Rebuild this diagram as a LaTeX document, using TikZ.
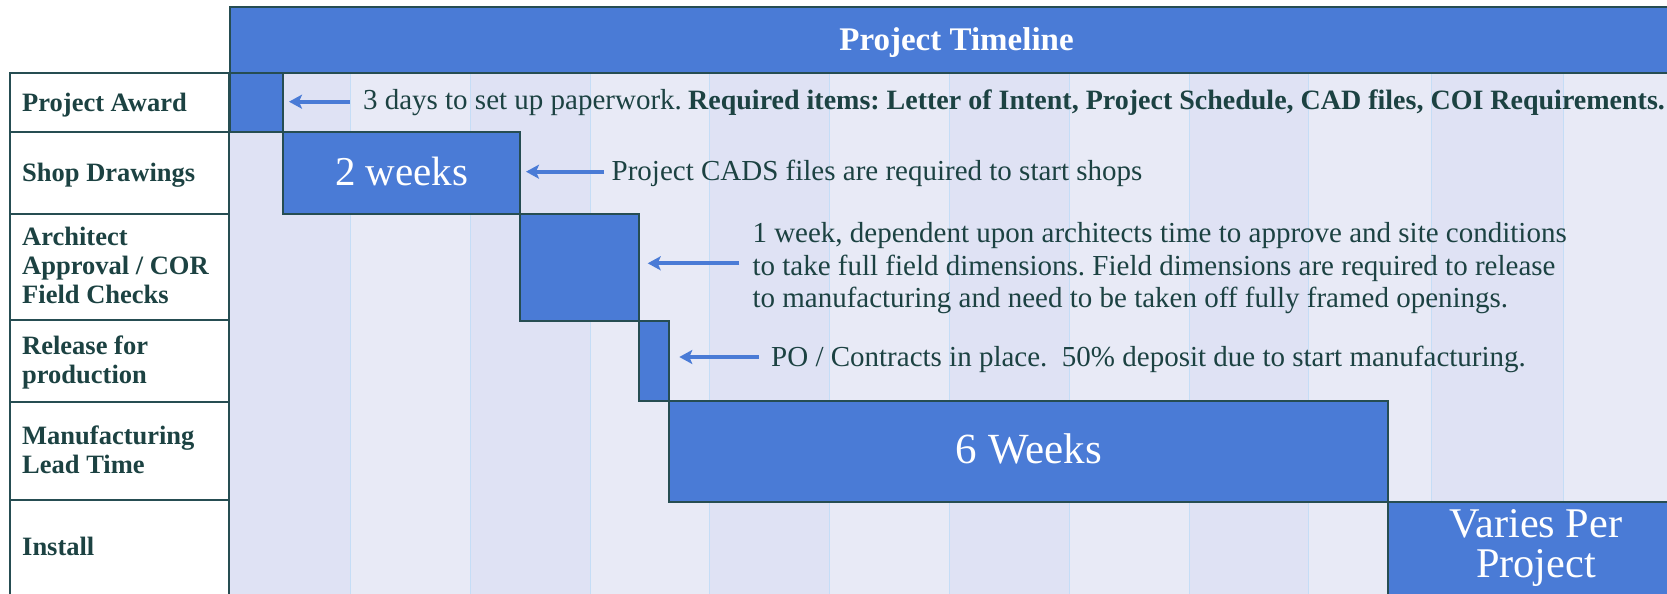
\documentclass[tikz,border=0pt]{standalone}
\usepackage{fontspec}
\setmainfont{Liberation Serif}
\usetikzlibrary{arrows.meta}
\definecolor{barblue}{RGB}{74,123,214}
\definecolor{edge}{RGB}{38,77,82}
\definecolor{ink}{RGB}{28,66,66}
\definecolor{stripeA}{RGB}{223,226,244}
\definecolor{stripeB}{RGB}{232,234,246}
\definecolor{gridline}{RGB}{197,221,246}
\begin{document}
\frenchspacing
\begin{tikzpicture}[x=1pt,y=-1pt,
  bar/.style={draw=edge, line width=1.8pt, fill=barblue, rectangle, inner sep=0pt, outer sep=0pt, anchor=north west},
  cell/.style={draw=edge, line width=2pt, fill=white, rectangle, inner sep=0pt, outer sep=0pt, anchor=north west, minimum width=219.2pt},
  lbl/.style={anchor=base west, inner sep=0pt, text=ink, font=\fontsize{26.5}{29}\selectfont\bfseries},
  ann/.style={anchor=base west, inner sep=0pt, text=ink, font=\fontsize{29}{32.4}\selectfont},
  arr/.style={draw=barblue, line width=4pt, -{Stealth[length=13pt,width=14pt,inset=3pt]}},
  bartext/.style={anchor=base, inner sep=0pt, text=white}
]
\useasboundingbox (0,0) rectangle (1667,594);
\clip (0,0) rectangle (1667,594);
% background stripes
\foreach \a/\b/\c in {230/350.3/stripeA,350.3/470.3/stripeB,470.3/590/stripeA,590/709.8/stripeB,709.8/829.6/stripeA,829.6/949.3/stripeB,949.3/1069.6/stripeA,1069.6/1189/stripeB,1189/1308.5/stripeA,1308.5/1431.5/stripeB,1431.5/1563.7/stripeA,1563.7/1684/stripeB}
  \fill[\c] (\a,72.7) rectangle (\b,600);
\foreach \a in {350.3,470.3,590,709.8,829.6,949.3,1069.6,1189,1308.5,1431.5,1563.7}
  \draw[gridline, line width=1pt] (\a,72.7) -- (\a,600);
% header
\node[draw=edge, line width=2pt, fill=barblue, rectangle, inner sep=0pt, outer sep=0pt, anchor=north west, minimum width=1453.7pt, minimum height=65.4pt] (header) at (230,7.3) {};
\node[anchor=base, inner sep=0pt, text=white, font=\fontsize{33}{36}\selectfont\bfseries] (title) at (956.5,51) {Project Timeline};
% label cells
\node[cell, minimum height=59.6pt] (c1) at (9.5,72.7) {};
\node[cell, minimum height=81.2pt] (c2) at (9.5,132.3) {};
\node[cell, minimum height=106pt] (c3) at (9.5,213.5) {};
\node[cell, minimum height=82.5pt] (c4) at (9.5,319.5) {};
\node[cell, minimum height=97.7pt] (c5) at (9.5,402) {};
\node[cell, minimum height=110pt] (c6) at (9.5,499.7) {};
\node[lbl] (l1) at (22,111.7) {Project Award};
\node[lbl] (l2) at (22,181.7) {Shop Drawings};
\node[lbl] (l3) at (22,245) {\begin{tabular}[t]{@{}l@{}}Architect\\Approval / COR\\Field Checks\end{tabular}};
\node[lbl] (l4) at (22,354) {\begin{tabular}[t]{@{}l@{}}Release for\\production\end{tabular}};
\node[lbl] (l5) at (22,444) {\begin{tabular}[t]{@{}l@{}}Manufacturing\\Lead Time\end{tabular}};
\node[lbl] (l6) at (22,555) {Install};
% bars
\node[bar, minimum width=53.2pt, minimum height=59.6pt] (bar1) at (230,72.7) {};
\node[bar, minimum width=237.1pt, minimum height=81.4pt] (bar2) at (283.2,132.3) {};
\node[bar, minimum width=118.7pt, minimum height=107.6pt] (bar3) at (520.3,213.7) {};
\node[bar, minimum width=30.3pt, minimum height=80pt] (bar4) at (639,321.3) {};
\node[bar, minimum width=719pt, minimum height=100.4pt] (bar5) at (669.3,401.3) {};
\node[bar, minimum width=300pt, minimum height=110pt] (bar6) at (1388.3,501.7) {};
\node[bartext, font=\fontsize{41}{42}\selectfont] (b2t) at (401.7,185) {2 weeks};
\node[bartext, font=\fontsize{43}{46}\selectfont] (b5t) at (1028.8,463) {6 Weeks};
\node[bartext, font=\fontsize{42.3}{40}\selectfont] (b6t) at (1536,537) {\begin{tabular}[t]{@{}c@{}}Varies Per\\Project\end{tabular}};
% annotations
\node[ann] (a1) at (362.8,109.5) {3 days to set up paperwork.\hspace{-1pt} {\fontsize{28}{32}\selectfont\bfseries Required items: Letter of Intent, Project Schedule, CAD files, COI Requirements.}};
\node[ann] (a2) at (611.5,180) {Project CADS files are required to start shops};
\node[ann] (a3) at (752.3,242.7) {\begin{tabular}[t]{@{}l@{}}1 week, dependent upon architects time to approve and site conditions\\to take full field dimensions. Field dimensions are required to release\\to manufacturing and need to be taken off fully framed openings.\end{tabular}};
\node[ann] (a4) at (771,366.7) {PO / Contracts in place.\ \ 50\% deposit due to start manufacturing.};
% arrows
\coordinate (t1) at (350,101.7);
\coordinate (t2) at (604,171.7);
\coordinate (t3) at (739.3,263.3);
\coordinate (t4) at (758.7,357);
\draw[arr, shorten >=5.8pt] (t1) -- (t1 -| bar1.east);
\draw[arr, shorten >=5.7pt] (t2) -- (t2 -| bar2.east);
\draw[arr, shorten >=8.7pt] (t3) -- (t3 -| bar3.east);
\draw[arr, shorten >=10pt] (t4) -- (t4 -| bar4.east);
\end{tikzpicture}
\end{document}
